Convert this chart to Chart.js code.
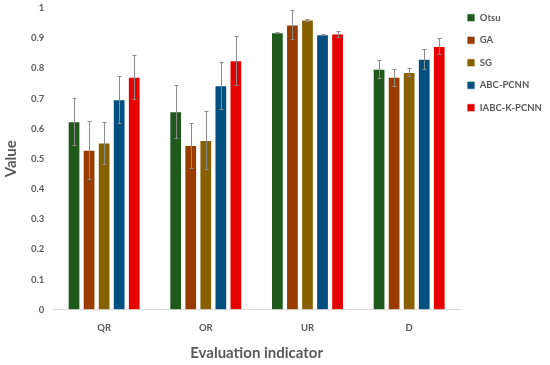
<!DOCTYPE html>
<html>
<head>
<meta charset="utf-8">
<script src="https://cdn.jsdelivr.net/npm/chart.js@4"></script>
<style>
    html, body { margin: 0; padding: 0; background: #fff; }
    #wrap { width: 550px; height: 365px; position: relative; }
</style>
</head>
<body>
<div id="wrap"><canvas id="myChart"></canvas></div>
<script>
const categories = ['QR', 'OR', 'UR', 'D'];
const seriesNames = ['Otsu', 'GA', 'SG', 'ABC-PCNN', 'IABC-K-PCNN'];
const seriesColors = ['#1f5a1c', '#993c00', '#876000', '#004f7e', '#e60000'];

// mean values per series (QR, OR, UR, D)
const otsu = [0.624, 0.657, 0.919, 0.798];
const ga = [0.529, 0.545, 0.945, 0.771];
const sg = [0.553, 0.562, 0.961, 0.787];
const abcPcnn = [0.697, 0.743, 0.912, 0.831];
const iabcKPcnn = [0.771, 0.826, 0.915, 0.873];

// error bar half-heights
const otsuErr = [0.078, 0.089, 0.002, 0.03];
const gaErr = [0.095, 0.074, 0.047, 0.028];
const sgErr = [0.07, 0.097, 0.003, 0.013];
const abcPcnnErr = [0.077, 0.079, 0.003, 0.033];
const iabcKPcnnErr = [0.072, 0.082, 0.01, 0.027];

const values = [otsu, ga, sg, abcPcnn, iabcKPcnn];
const errors = [otsuErr, gaErr, sgErr, abcPcnnErr, iabcKPcnnErr];

const fontFamily = 'Lato, "Open Sans", sans-serif';

// Draw the error whiskers on top of every bar
const errorBars = {
    id: 'errorBars',
    afterDatasetsDraw(chart) {
        const ctx = chart.ctx;
        const yScale = chart.scales.y;
        ctx.save();
        ctx.strokeStyle = '#8c8c8c';
        ctx.lineWidth = 1;
        chart.data.datasets.forEach((ds, i) => {
            const meta = chart.getDatasetMeta(i);
            meta.data.forEach((bar, j) => {
                const v = ds.data[j];
                const e = ds.errors[j];
                const top = Math.round(yScale.getPixelForValue(v + e)) + 0.5;
                const bottom = Math.round(yScale.getPixelForValue(v - e)) + 0.5;
                const x = Math.round(bar.x) + 0.5;
                ctx.beginPath();
                ctx.moveTo(x, top);
                ctx.lineTo(x, bottom);
                ctx.moveTo(x - 2, top);
                ctx.lineTo(x + 2, top);
                ctx.moveTo(x - 2, bottom);
                ctx.lineTo(x + 2, bottom);
                ctx.stroke();
            });
        });
        ctx.restore();
    }
};

// Narrow the legend box and pin it to the top, like the original
const legendPlacement = {
    id: 'legendPlacement',
    beforeLayout(chart) {
        const legend = chart.legend;
        if (legend && !legend._patched) {
            const fit = legend.fit.bind(legend);
            legend.fit = function () {
                fit();
                this.width = 90;
            };
            legend._patched = true;
        }
    },
    afterLayout(chart) {
        chart.legend.left -= 6;
        chart.legend.top = 0;
    }
};

const chartData = {
    labels: categories,
    datasets: seriesNames.map((name, i) => ({
        label: name,
        data: values[i],
        errors: errors[i],
        backgroundColor: seriesColors[i],
        borderColor: '#ffffff',
        borderWidth: 0.8,
        categoryPercentage: 0.74,
        barPercentage: 0.82
    }))
};

const config = {
    type: 'bar',
    data: chartData,
    options: {
        responsive: true,
        maintainAspectRatio: false,
        animation: false,
        layout: {
            padding: { left: 2, right: 0, top: 0, bottom: 3 }
        },
        scales: {
            y: {
                min: 0,
                max: 1,
                ticks: {
                    stepSize: 0.1,
                    color: '#595959',
                    font: { family: fontFamily, size: 9.5, weight: 'bold' },
                    padding: 9,
                    callback: v => String(Number(v.toFixed(1)))
                },
                afterFit: scale => {
                    scale.paddingTop = 8;
                    scale.paddingBottom = 8;
                },
                grid: { display: false, drawTicks: false },
                border: { display: false },
                title: {
                    display: true,
                    text: 'Value',
                    color: '#595959',
                    font: { family: fontFamily, size: 15, weight: 'bold' },
                    padding: { top: 0, bottom: 2 }
                }
            },
            x: {
                ticks: {
                    color: '#595959',
                    font: { family: fontFamily, size: 9.5, weight: 'bold' },
                    padding: 13
                },
                grid: { display: false, drawTicks: false },
                border: { display: true, color: '#d9d9d9' },
                title: {
                    display: true,
                    text: 'Evaluation indicator',
                    color: '#595959',
                    font: { family: fontFamily, size: 15, weight: 'bold' },
                    padding: { top: -3, bottom: 0 }
                }
            }
        },
        plugins: {
            legend: {
                position: 'right',
                align: 'start',
                labels: {
                    boxWidth: 8,
                    boxHeight: 8,
                    padding: 13,
                    color: '#595959',
                    font: { family: fontFamily, size: 9.5, weight: 'bold' }
                }
            },
            tooltip: { enabled: false }
        }
    },
    plugins: [errorBars, legendPlacement]
};

const chart = new Chart(document.getElementById('myChart'), config);
</script>
</body>
</html>
